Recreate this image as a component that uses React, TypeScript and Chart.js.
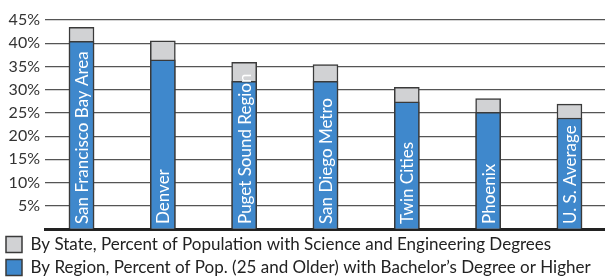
import React, { useEffect, useRef } from 'react';
import { Chart, registerables } from 'chart.js';
Chart.register(...registerables);

const categories = [
  'San Francisco Bay Area',
  'Denver',
  'Puget Sound Region',
  'San Diego Metro',
  'Twin Cities',
  'Phoenix',
  'U. S. Average',
];
const bachelorByRegion = [40.4, 36.4, 31.8, 31.8, 27.4, 25.1, 23.9];
const scienceEngByState = [43.4, 40.5, 35.9, 35.4, 30.5, 28.1, 26.9];
const yTickValues = [5, 10, 15, 20, 25, 30, 35, 40, 45];
const legendLabels = [
  'By Region, Percent of Pop. (25 and Older) with Bachelor\u2019s Degree or Higher',
  'By State, Percent of Population with Science and Engineering Degrees',
];

const FONT = 'Lato, "Open Sans", sans-serif';

const barLabelPlugin = {
  id: 'barLabels',
  afterDatasetsDraw(chart: any) {
    const ctx = chart.ctx;
    const meta = chart.getDatasetMeta(0);
    const base = chart.scales.y.getPixelForValue(0);
    ctx.save();
    ctx.fillStyle = '#ffffff';
    ctx.font = '17px ' + FONT;
    ctx.textAlign = 'left';
    ctx.textBaseline = 'middle';
    meta.data.forEach((el: any, i: number) => {
      ctx.save();
      ctx.translate(el.x + 1, base - 5);
      ctx.rotate(-Math.PI / 2);
      ctx.fillText(categories[i], 0, 0);
      ctx.restore();
    });
    ctx.restore();
  },
};

export default function App() {
  const ref = useRef<HTMLCanvasElement | null>(null);
  useEffect(() => {
    document.body.style.margin = '0';
    if (!ref.current) return;
    const chart = new Chart(ref.current, {
      type: 'bar',
      data: {
        datasets: [
          {
            label: legendLabels[0],
            data: bachelorByRegion.map((v, i) => ({ x: i, y: v })),
            backgroundColor: '#3f88cc',
            borderColor: '#3a3a3a',
            borderWidth: 1.5,
            barThickness: 25,
          },
          {
            label: legendLabels[1],
            data: scienceEngByState.map((v, i) => ({ x: i, y: v })),
            backgroundColor: '#d1d2d4',
            borderColor: '#3a3a3a',
            borderWidth: 1.5,
            barThickness: 25,
          },
        ],
      },
      options: {
        animation: false,
        responsive: false,
        layout: { padding: { top: 20, left: 0, right: 0, bottom: 0 } },
        plugins: {
          tooltip: { enabled: false },
          legend: {
            position: 'bottom',
            align: 'start',
            reverse: true,
            labels: {
              boxWidth: 16,
              boxHeight: 16,
              padding: 6,
              color: '#222',
              font: { family: FONT, size: 17 },
            },
          },
        },
        scales: {
          x: {
            type: 'linear',
            offset: false,
            min: -0.449,
            max: 6.437,
            stacked: true,
            grid: { display: false, offset: false },
            ticks: { display: false },
            border: { display: true, color: '#222', width: 3 },
            afterFit(scale: any) {
              scale.height = 1;
            },
          },
          y: {
            min: 0,
            max: 45,
            stacked: false,
            afterBuildTicks(scale: any) {
              scale.ticks = [0, ...yTickValues].map((v) => ({ value: v }));
            },
            afterFit(scale: any) {
              scale.width = 45;
            },
            grid: { color: '#555', lineWidth: 1.2, drawTicks: false },
            border: { display: false },
            ticks: {
              padding: 5,
              color: '#333',
              font: { family: FONT, size: 16 },
              callback: (v: any) => (v === 0 ? '' : v + '%'),
            },
          },
        },
      },
      plugins: [barLabelPlugin],
    } as any);
    return () => chart.destroy();
  }, []);
  return (
    <div style={{ width: 605, height: 278, overflow: 'hidden' }}>
      <canvas ref={ref} width={605} height={286} style={{ display: 'block' }} />
    </div>
  );
}
